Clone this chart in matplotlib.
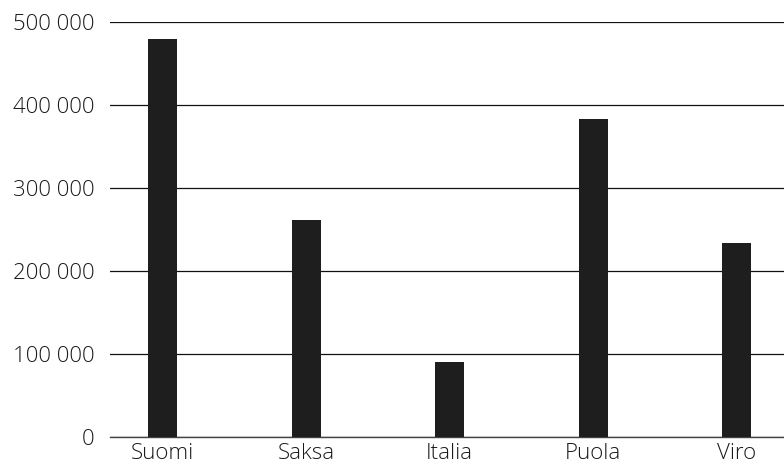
import matplotlib
matplotlib.use("Agg")
import matplotlib.pyplot as plt
from matplotlib.ticker import FuncFormatter

# values
countries = ["Suomi", "Saksa", "Italia", "Puola", "Viro"]
values = [480000, 261000, 91000, 383000, 234000]
yTicks = [0, 100000, 200000, 300000, 400000, 500000]

plt.rcParams['font.family'] = ['Open Sans', 'DejaVu Sans']
plt.rcParams['font.weight'] = 'light'

fig = plt.figure(figsize=(7.84, 4.66), dpi=100)
ax = fig.add_axes([0.140, 0.062, 0.860, 0.891])

positions = range(len(countries))
ax.bar(positions, values, width=0.2, color='#1e1e1e', zorder=3)

ax.set_xlim(-0.37, 4.33)
ax.set_ylim(0, 500000)
ax.set_yticks(yTicks)
ax.yaxis.set_major_formatter(FuncFormatter(lambda v, p: f"{int(v):,}".replace(",", " ")))
ax.set_xticks(list(positions))
ax.set_xticklabels(countries)

ax.yaxis.grid(True, color='#111111', linewidth=0.9, zorder=1)
ax.set_axisbelow(True)

for side in ['top', 'right', 'left']:
    ax.spines[side].set_visible(False)
ax.spines['bottom'].set_color('#444444')
ax.spines['bottom'].set_linewidth(1.0)

ax.tick_params(axis='y', length=0, pad=11, labelsize=16, labelcolor='#1a1a1a')
ax.tick_params(axis='x', length=0, pad=4, labelsize=16, labelcolor='#1a1a1a')

fig.savefig("out.png", dpi=100)
